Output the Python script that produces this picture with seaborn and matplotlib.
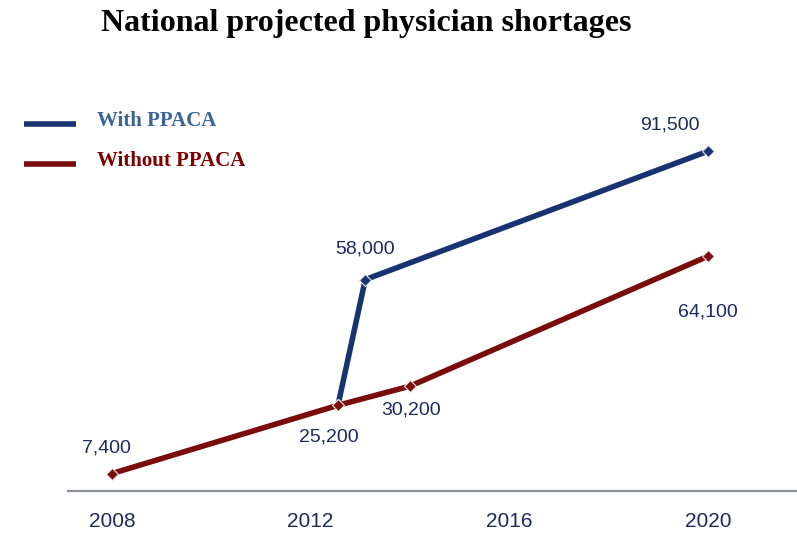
import pandas as pd
import matplotlib
matplotlib.use('Agg')
import matplotlib.pyplot as plt
import seaborn as sns
from matplotlib.lines import Line2D

# Data
years_without = [2008, 2012.55, 2014, 2020]
shortage_without = [7400, 25200, 30200, 64100]
years_with = [2012.55, 2013.1, 2020]
shortage_with = [25200, 58000, 91500]
tick_years = [2008, 2012, 2016, 2020]
series_names = ['With PPACA', 'Without PPACA']
line_colors = ['#173471', '#7a0c0c']
legend_text_colors = ['#3b6597', '#7f0000']

df = pd.concat([
    pd.DataFrame({'Year': years_with, 'Shortage': shortage_with, 'Scenario': series_names[0]}),
    pd.DataFrame({'Year': years_without, 'Shortage': shortage_without, 'Scenario': series_names[1]}),
])

sns.set_style('white')
plt.rcParams['font.family'] = ['Liberation Sans', 'DejaVu Sans']

fig = plt.figure(figsize=(7.97, 5.33), dpi=100)
ax = fig.add_axes([0.0853, 0.0788, 0.9147, 0.752])

sns.lineplot(data=df, x='Year', y='Shortage', hue='Scenario', hue_order=series_names,
             palette=line_colors, linewidth=4, marker='D', markersize=6,
             markeredgecolor='#e8e8e8', markeredgewidth=0.8, legend=False, ax=ax)
for ln in ax.get_lines():
    ln.set_solid_capstyle('butt')

ax.set_xlim(2007.116, 2021.79)
ax.set_ylim(2850, 107400)
ax.set_xticks(tick_years)
ax.set_xticklabels([str(y) for y in tick_years])
ax.set_yticks([])
ax.set_xlabel('')
ax.set_ylabel('')
ax.tick_params(axis='x', length=0, pad=15, labelsize=15, labelcolor='#1c2a5c')
for s in ['left', 'top', 'right']:
    ax.spines[s].set_visible(False)
ax.spines['bottom'].set_color('#8a8f9a')
ax.spines['bottom'].set_linewidth(1.6)

# Value labels (offsets in points)
label_offsets = {
    (2008, 7400): (-3.6, 18.4),
    (2012.55, 25200): (-6.5, -22.8),
    (2014, 30200): (0.7, -17.3),
    (2020, 64100): (0, -40.3),
    (2013.1, 58000): (0, 22),
    (2020, 91500): (-27.4, 18.7),
}
for (x, y), (dx, dy) in label_offsets.items():
    ax.annotate(f'{y:,}', (x, y), xytext=(dx, dy), textcoords='offset points',
                ha='center', va='center', fontsize=14, color='#1c2a5c')

# Title
fig.text(0.459, 0.955, 'National projected physician shortages', ha='center', va='center',
         fontsize=23, fontweight='bold', family='Liberation Serif', color='black')

# Custom legend at top-left
legend_y = [1 - 124 / 533, 1 - 164 / 533]
for name, lc, tc, ly in zip(series_names, line_colors, legend_text_colors, legend_y):
    fig.add_artist(Line2D([24 / 797, 76 / 797], [ly, ly], color=lc, linewidth=4,
                          solid_capstyle='butt', transform=fig.transFigure))
    fig.text(97 / 797, ly + 0.006, name, ha='left', va='center', fontsize=15,
             fontweight='bold', family='Liberation Serif', color=tc)

fig.savefig('out.png', dpi=100)
